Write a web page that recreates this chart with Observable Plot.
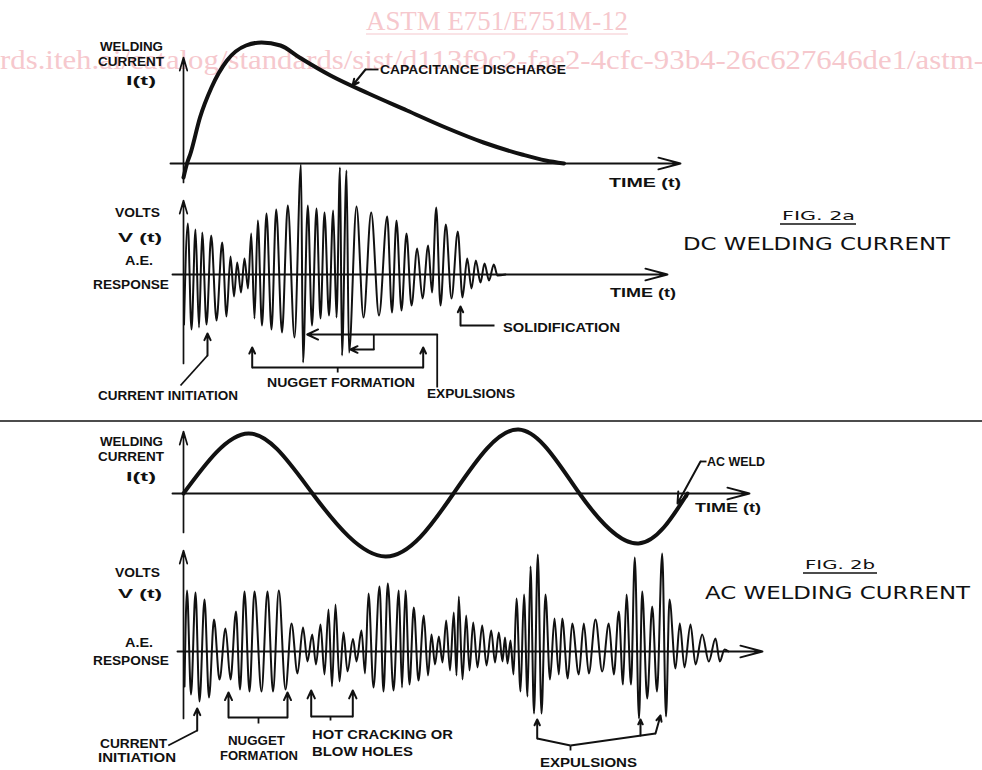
<!DOCTYPE html>
<html><head><meta charset="utf-8">
<script src="https://cdn.jsdelivr.net/npm/d3@7"></script>
<script src="https://cdn.jsdelivr.net/npm/@observablehq/plot@0.6"></script>
<style>
html,body{margin:0;padding:0;background:#fff;}
#fig{position:relative;width:982px;height:770px;overflow:hidden;background:#fff;}
#fig svg{position:absolute;left:0;top:0;}
</style></head><body><div id="fig"></div>
<script>
// ---------------- DATA (time units, amplitude units) ----------------
// Fig 2a: DC capacitance-discharge welding current
const dcTime    = [0, 3.5, 7, 16.5, 28, 43.5, 62.5, 78, 97, 116, 147, 185, 223.5, 262, 300, 338.5, 362, 380.5];
const dcCurrent = [-14, 0, 10, 46, 76, 103, 118, 121, 118, 106, 88, 70, 53, 36, 21, 9, 3, 0];

// Fig 2a: A.E. response, successive extrema
const dcAeTime = [0.5, 4.3, 8, 12, 15.5, 18.7, 23, 27.7, 33, 38.7, 43, 47, 50.5, 53.7, 57.5, 61, 64.5, 67.7, 71, 74.3,
  78.5, 83, 88, 92.7, 98.5, 104.3, 111, 117.5, 119.5, 124.3, 128.5, 133, 137, 141, 145.5, 149.7, 153, 156.5, 158.5, 163,
  165.5, 173, 180, 187.7, 195.5, 203.7, 208.5, 213, 218, 223, 228, 233.7, 239, 244.7, 248.5, 252.7, 257, 262.3, 268, 274.3,
  279, 283.7, 288, 292.3, 297, 301, 305.5, 310.3, 314, 322];
const dcAeVolts = [-50, 51, -55, 45, -53, 42, -50, 39, -46, 32, -42, 18, -22, 12, -18, 16, -14, 41, -44, 54,
  -51, 61, -55, 65, -58, 69, -63, 110, -88, 69, -51, 66, -44, 62, -41, 64, -43, 107, -81, 104,
  -78, 68, -43, 62, -41, 58, -38, 54, -36, 41, -31, 26, -24, 29, -18, 67, -31, 50, -24, 43,
  -23, 16, -14, 14, -8, 11, -6, 10, -1, 0];

// Fig 2b: AC welding current, zero crossings and extrema
const acTime    = [0, 65, 129, 202, 270, 335, 396, 455, 504];
const acCurrent = [0, 60, 0, -63, 0, 64, 0, -50, 0];

// Fig 2b: A.E. response, successive extrema
const acAeTime = [1, 3.5, 7.5, 12, 16, 21, 25.5, 30.5, 36, 42, 47, 52.5, 56.5, 61, 66, 71, 78, 84, 89.5, 95.3,
  102, 108, 114, 119.5, 124, 128.7, 132.5, 137, 141, 145, 148.5, 152, 156, 160, 164, 169.5, 173, 178, 181.5, 185,
  190, 196, 200, 204.3, 210, 215.3, 218.5, 222, 226, 230.3, 235, 240.3, 244.5, 248, 251.5, 255.3, 259, 262.7, 266.5, 270.3,
  273, 275.3, 279, 282.7, 286, 289.7, 294, 298.7, 303, 307.7, 311.5, 315.3, 319, 321.5, 324, 327, 330, 333, 337, 340.5,
  344, 347, 350.5, 354.3, 358, 362, 366.5, 371, 375.3, 378.7, 384.3, 388.7, 395.3, 400.3, 405.3, 412, 418.7, 425.3, 430.3, 435.3,
  439.5, 443, 447.5, 451.3, 455.5, 458.7, 463.7, 468.7, 473.5, 478.7, 482.5, 486, 492, 496.3, 501, 507, 512, 518.7, 525.3, 532,
  536.3, 541, 545];
const acAeVolts = [-35, 61, -43, 59, -50, 52, -46, 32, -28, 23, -28, 40, -38, 60, -40, 60, -40, 60, -40, 61,
  -38, 28, -22, 24, -10, 17, -13, 27, -23, 42, -35, 47, -30, 19, -20, 12.5, -10, 21, -22, 58,
  -36, 65, -40, 68, -39, 61, -36, 61, -33, 44, -29, 36, -24, 17, -13, 15, -11, 31, -19, 39,
  -24, 55, -28, 36, -19, 29, -16, 26, -14, 21, -11, 19, -10, 14, -12, 11, -23, 53, -40, 57,
  -45, 85, -62, 97, -62, 57, -28, 33, -23, 33, -27, 28, -23, 28, -22, 32, -20, 28, -23, 40,
  -33, 57, -33, 94, -67, 60, -47, 45, -40, 98, -65, 52, -17, 28, -16, 27, -13, 17, -10, 13,
  -10, 2, 0];

// Annotated event times (same time units)
const dcNugget = [68.7, 239.7];
const dcExpulsion = [123.7, 167];
const dcSolidification = [277];
const dcInitiation = [24];
const acNugget = [45, 104];
const acHotCracking = [127.7, 169.3];
const acExpulsions = [353.7, 457, 477];
const acInitiation = [13.7];

// ---------------- DRAWING ----------------
const fig = document.getElementById("fig");
const INK = "#111";

const pts = (T, V) => T.map((t, i) => ({t, v: V[i]}));
const seg = (x1, y1, x2, y2) => ({x1, y1, x2, y2});
const links = (arr, o = {}) => Plot.link(arr, {x1: "x1", y1: "y1", x2: "x2", y2: "y2", stroke: INK, strokeWidth: 1.8, ...o});
const arrows = (arr, o = {}) => Plot.arrow(arr, {x1: "x1", y1: "y1", x2: "x2", y2: "y2", stroke: INK, strokeWidth: 2, headLength: 9, headAngle: 50, ...o});
const axisArrowsH = (arr) => arrows(arr, {strokeWidth: 1.9, headLength: 18, headAngle: 30});
const axisArrowsV = (arr) => arrows(arr, {strokeWidth: 1.7, headLength: 12, headAngle: 32});

// Each panel: 1 time unit = 1px from the vertical axis, 1 amplitude unit = 1px from the baseline
function panel(x0, base, marks) {
  const svg = Plot.plot({
    width: 982, height: 770, margin: 0,
    x: {domain: [0, 100], range: [x0, x0 + 100], axis: null},
    y: {domain: [0, 100], range: [base, base - 100], axis: null},
    style: {background: "transparent", overflow: "visible"},
    marks
  });
  fig.appendChild(svg);
}

// watermark (behind)
const wm = d3.select(fig).append("svg").attr("width", 982).attr("height", 770);
wm.append("text").attr("x", 497).attr("y", 30).attr("text-anchor", "middle")
  .attr("font-family", "'Liberation Serif', 'Times New Roman', serif").attr("font-size", 27)
  .attr("fill", "#f6c8cd").attr("textLength", 262).attr("lengthAdjust", "spacingAndGlyphs")
  .text("ASTM E751/E751M-12");
wm.append("line").attr("x1", 366).attr("x2", 628).attr("y1", 34).attr("y2", 34)
  .attr("stroke", "#f6c8cd").attr("stroke-width", 1.2);
wm.append("text").attr("x", 0).attr("y", 69)
  .attr("font-family", "'Liberation Serif', 'Times New Roman', serif").attr("font-size", 27)
  .attr("fill", "#f6c8cd").attr("textLength", 984).attr("lengthAdjust", "spacingAndGlyphs")
  .text("rds.iteh.ai/catalog/standards/sist/d113f9c2-fae2-4cfc-93b4-26c627646de1/astm-");

// Fig 2a current
panel(183, 163, [
  axisArrowsV([seg(0, -19, 0, 106)]),
  axisArrowsH([seg(-13, 0, 497, 0)]),
  Plot.line(pts(dcTime, dcCurrent), {x: "t", y: "v", curve: "monotone-x", stroke: INK, strokeWidth: 4, strokeLinecap: "round"}),
  links([seg(182, 94, 195, 94)]),
  arrows([seg(182, 94, 169, 78)])
]);

// Fig 2a A.E. response
panel(183, 274, [
  axisArrowsV([seg(0, -89, 0, 74)]),
  axisArrowsH([seg(-11, 0, 484, 0)]),
  Plot.line(pts(dcAeTime, dcAeVolts), {x: "t", y: "v", curve: "monotone-x", stroke: INK, strokeWidth: 2}),
  // current initiation
  arrows(dcInitiation.map(t => seg(t, -81, t, -59))),
  links(dcInitiation.map(t => seg(t, -81, t - 27, -111))),
  // nugget formation bracket
  arrows(dcNugget.map(t => seg(t, -93, t, -73))),
  links([seg(dcNugget[0], -93, dcNugget[1], -93), seg((dcNugget[0] + dcNugget[1]) / 2, -93, (dcNugget[0] + dcNugget[1]) / 2, -98)]),
  // expulsions
  links([seg(253.7, -113, 253.7, -60), seg(190.3, -60, 190.3, -75)]),
  arrows([seg(253.7, -60, dcExpulsion[0], -60), seg(190.3, -75, dcExpulsion[1], -75)]),
  // solidification
  arrows(dcSolidification.map(t => seg(t, -51, t, -32))),
  links(dcSolidification.map(t => seg(t, -51, t + 34, -51)))
]);

// Fig 2b current
panel(183, 493, [
  axisArrowsV([seg(0, -39, 0, 62)]),
  axisArrowsH([seg(-11, 0, 566, 0)]),
  Plot.line(pts(acTime, acCurrent), {x: "t", y: "v", curve: "natural", stroke: INK, strokeWidth: 4, strokeLinecap: "round"}),
  links([seg(517, 32, 523, 32)]),
  arrows([seg(517, 32, 494, -10)])
]);

// Fig 2b A.E. response
panel(183, 651, [
  axisArrowsV([seg(0, -67, 0, 101)]),
  axisArrowsH([seg(-6, 0, 579, 0)]),
  Plot.line(pts(acAeTime, acAeVolts), {x: "t", y: "v", curve: "monotone-x", stroke: INK, strokeWidth: 2}),
  // current initiation
  arrows(acInitiation.map(t => seg(t, -79, t, -57))),
  links(acInitiation.map(t => seg(t, -79, t - 29, -94))),
  // nugget formation
  arrows(acNugget.map(t => seg(t, -66, t, -41))),
  links([seg(acNugget[0], -66, acNugget[1], -66), seg(75, -66, 75, -72)]),
  // hot cracking
  arrows(acHotCracking.map(t => seg(t, -65, t, -39))),
  links([seg(acHotCracking[0], -65, acHotCracking[1], -65), seg(147, -65, 147, -69)]),
  // expulsions
  arrows([seg(acExpulsions[0], -87, acExpulsions[0], -68), seg(acExpulsions[1], -84, acExpulsions[1], -68), seg(472, -82, acExpulsions[2], -64)]),
  links([seg(acExpulsions[0], -87, 387, -94), seg(387, -94, 472, -82), seg(387, -94, 387, -99)])
]);

// labels and divider (on top)
const L = d3.select(fig).append("svg").attr("width", 982).attr("height", 770);
L.append("line").attr("x1", 0).attr("x2", 982).attr("y1", 421).attr("y2", 421).attr("stroke", INK).attr("stroke-width", 1.6);
function label(t, x, y, w, o = {}) {
  const el = L.append("text").attr("x", x).attr("y", y).text(t)
    .attr("font-family", o.family || "'Liberation Sans', Arial, sans-serif")
    .attr("font-size", o.size || 12.5)
    .attr("font-weight", o.weight || "bold")
    .attr("fill", INK);
  if (w) el.attr("textLength", w).attr("lengthAdjust", "spacingAndGlyphs");
}
const big = {size: 18, weight: "normal", family: "'DejaVu Sans', sans-serif"};
const fig2 = {size: 13, weight: "normal", family: "'DejaVu Sans', sans-serif"};
// Fig 2a
label("WELDING", 100, 51, 63); label("CURRENT", 98, 66, 66); label("I(t)", 126, 85, 30);
label("CAPACITANCE DISCHARGE", 380, 74, 186);
label("TIME (t)", 609, 187, 72);
label("VOLTS", 115, 217, 45); label("V (t)", 118, 242, 44); label("A.E.", 125, 265, 28); label("RESPONSE", 93, 289, 76);
label("TIME (t)", 610, 297, 66);
label("FIG. 2a", 782, 220, 73, fig2);
L.append("line").attr("x1", 780).attr("x2", 856).attr("y1", 224).attr("y2", 224).attr("stroke", INK).attr("stroke-width", 1.5);
label("DC WELDING CURRENT", 683, 250, 267, big);
label("SOLIDIFICATION", 503, 332, 117);
label("NUGGET FORMATION", 267, 387, 148);
label("EXPULSIONS", 427, 398, 88);
label("CURRENT INITIATION", 98, 400, 140);
// Fig 2b
label("WELDING", 100, 446, 63); label("CURRENT", 98, 461, 66); label("I(t)", 126, 481, 30);
label("TIME (t)", 695, 512, 66);
label("AC WELD", 707, 466, 58);
label("FIG. 2b", 805, 569, 70, fig2);
L.append("line").attr("x1", 803).attr("x2", 877).attr("y1", 573).attr("y2", 573).attr("stroke", INK).attr("stroke-width", 1.5);
label("AC WELDING CURRENT", 705, 599, 265, big);
label("VOLTS", 115, 577, 45); label("V (t)", 118, 598, 44); label("A.E.", 125, 647, 28); label("RESPONSE", 93, 665, 76);
label("CURRENT", 100, 748, 67); label("INITIATION", 98, 762, 78);
label("NUGGET", 228, 745, 57); label("FORMATION", 220, 760, 78);
label("HOT CRACKING OR", 312, 739, 141); label("BLOW HOLES", 312, 756, 101);
label("EXPULSIONS", 540, 767, 97);
</script></body></html>
